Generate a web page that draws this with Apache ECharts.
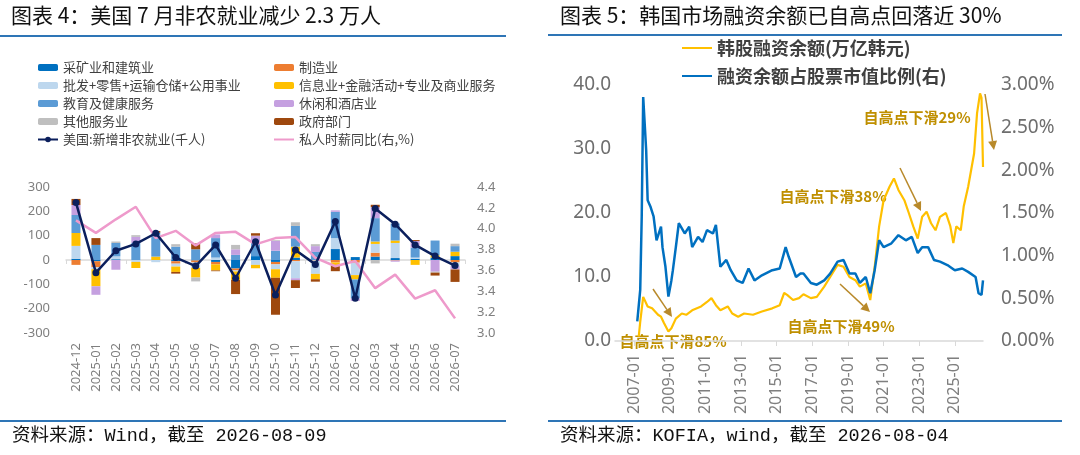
<!DOCTYPE html>
<html>
<head>
<meta charset="utf-8">
<script src="https://cdn.jsdelivr.net/npm/echarts@6/dist/echarts.min.js"></script>
<style>
html, body { margin: 0; padding: 0; background: #fff; }
#chart { width: 1080px; height: 455px; }
</style>
</head>
<body>
<div id="chart"></div>
<script>
// ---- 图表4：美国非农 ----
var usMonths = ['2024-12', '2025-01', '2025-02', '2025-03', '2025-04', '2025-05', '2025-06', '2025-07', '2025-08', '2025-09',
    '2025-10', '2025-11', '2025-12', '2026-01', '2026-02', '2026-03', '2026-04', '2026-05', '2026-06', '2026-07'];
var mining    = [5, -5, 3, 0, 0, -5, -2, -8, -35, 16, -8, 10, 0, 45, 12, 14, 8, 5, 10, 16];
var manufact  = [-20, -25, 0, 0, 0, -10, -8, -10, -8, 0, -10, -5, -2, -10, -11, 16, -2, 0, 0, -10];
var trade     = [53, -8, 12, -8, -9, -12, -22, 10, -4, -20, -20, -70, -55, 45, -51, 36, 62, 5, 0, -15];
var infoFin   = [53, -70, 0, -25, 14, -22, -40, -25, -35, -14, -35, 45, -22, -14, -18, 10, 10, -20, 10, 18];
var eduHealth = [74, 62, 55, 70, 98, 55, 44, 80, 21, 59, 38, 85, 33, 108, -78, 96, 70, 40, 60, 23];
var leisure   = [41, -35, -40, 25, 0, 0, 0, 15, 23, 25, 41, -8, 24, 6, -10, 45, -5, 28, -48, -14];
var otherSvc  = [0, 0, 6, 7, 0, 10, -16, 0, 18, 0, 3, 15, 8, 0, 0, -14, 0, 0, -4, 10];
var govt      = [25, 28, 0, 0, 7, -7, 24, -3, -58, 10, -152, -32, -10, -22, 0, 10, 0, 4, -12, -51];
var payrolls  = [236, -52, 38, 66, 110, 10, -25, 62, -75, 75, -144, 41, -18, 158, -157, 212, 147, 62, 16, -23];
var wageYoy   = [4.08, 3.96, 4.09, 4.21, 3.91, 3.98, 3.84, 3.96, 3.97, 3.85, 3.91, 3.92, 3.72, 3.64, 3.69, 3.43, 3.56, 3.33, 3.41, 3.14];

// ---- 图表5：韩国融资余额 ----
var loanDates = ['2007-04', '2007-05', '2007-07', '2007-10', '2008-01', '2008-05', '2008-07', '2008-09', '2008-12', '2009-02',
    '2009-05', '2009-09', '2009-12', '2010-04', '2010-10', '2011-02', '2011-05', '2011-08', '2011-11', '2012-04',
    '2012-07', '2012-11', '2013-03', '2013-09', '2014-03', '2014-10', '2015-03', '2015-06', '2015-08', '2015-12',
    '2016-04', '2016-07', '2016-12', '2017-04', '2017-09', '2018-01', '2018-06', '2018-10', '2019-02', '2019-06',
    '2019-09', '2020-01', '2020-04', '2020-07', '2020-10', '2021-01', '2021-05', '2021-08', '2021-11', '2022-03',
    '2022-06', '2022-09', '2022-12', '2023-03', '2023-06', '2023-09', '2023-12', '2024-03', '2024-07', '2024-10',
    '2024-12', '2025-02', '2025-05', '2025-07', '2025-10', '2026-02', '2026-04', '2026-06', '2026-07', '2026-08'];
var loanValues = [0.7, 3.0, 6.9, 5.4, 5.1, 4.1, 3.8, 2.8, 1.5, 2.0,
    3.5, 4.3, 4.1, 4.8, 5.4, 6.1, 6.7, 5.6, 4.8, 5.4,
    4.3, 3.8, 4.3, 4.1, 4.6, 5.1, 5.6, 7.5, 7.2, 6.4,
    6.7, 7.3, 6.7, 6.9, 8.5, 10.0, 11.9, 11.6, 10.0, 9.5,
    8.5, 9.0, 6.4, 11.6, 17.9, 22.0, 24.1, 25.4, 23.6, 22.0,
    20.0, 17.9, 16.0, 19.4, 20.2, 18.4, 17.3, 19.4, 20.0, 17.9,
    15.3, 17.9, 17.3, 21.0, 24.1, 29.3, 35.6, 38.7, 38.0, 27.2];

var ratioDates = ['2007-03', '2007-05', '2007-06', '2007-07', '2007-09', '2007-10', '2007-12', '2008-02', '2008-04', '2008-07',
    '2008-08', '2008-10', '2008-12', '2009-02', '2009-03', '2009-05', '2009-07', '2009-11', '2010-02', '2010-04',
    '2010-08', '2010-11', '2011-02', '2011-06', '2011-08', '2011-11', '2012-03', '2012-06', '2012-10', '2013-02',
    '2013-06', '2013-10', '2014-03', '2014-10', '2015-03', '2015-07', '2015-09', '2016-02', '2016-05', '2016-07',
    '2016-12', '2017-04', '2017-09', '2018-01', '2018-06', '2018-10', '2019-02', '2019-06', '2019-09', '2020-01',
    '2020-04', '2020-07', '2020-10', '2021-01', '2021-06', '2021-11', '2022-04', '2022-08', '2022-12', '2023-03',
    '2023-07', '2023-11', '2024-03', '2024-08', '2025-01', '2025-06', '2025-10', '2026-03', '2026-05', '2026-07',
    '2026-08'];
var ratioValues = [0.23, 0.6, 1.45, 2.86, 2.24, 1.65, 1.57, 1.46, 1.18, 1.34,
    1.1, 0.87, 0.52, 0.71, 0.83, 1.1, 1.38, 1.26, 1.34, 1.1,
    1.22, 1.16, 1.3, 1.26, 1.36, 0.87, 0.95, 0.83, 0.71, 0.68,
    0.85, 0.71, 0.77, 0.83, 0.85, 1.1, 0.99, 0.75, 0.79, 0.79,
    0.68, 0.66, 0.71, 0.79, 0.93, 0.95, 0.79, 0.79, 0.68, 0.75,
    0.56, 0.83, 1.18, 1.1, 1.14, 1.24, 1.18, 1.22, 1.03, 1.1,
    1.1, 0.95, 0.93, 0.89, 0.83, 0.85, 0.81, 0.75, 0.56, 0.54,
    0.71];

// 月度类目轴 2005-12 ~ 2026-08
var krMonths = [];
for (var y = 2005; y <= 2026; y++) {
    for (var m = 1; m <= 12; m++) {
        var s = y + '-' + (m < 10 ? '0' + m : m);
        if (s >= '2005-12' && s <= '2026-08') krMonths.push(s);
    }
}
function onMonths(dates, vals) {
    var map = {};
    dates.forEach(function (d, i) { map[d] = vals[i]; });
    return krMonths.map(function (d) { return d in map ? map[d] : null; });
}
function isOddJan(idx, val) {
    return val.slice(5) === '01' && (+val.slice(0, 4)) % 2 === 1;
}

var gold = '#BF8F00';
function arrow(x1, y1, x2, y2) {
    var a = Math.atan2(y2 - y1, x2 - x1);
    var L = 9, W = 4.5;
    var bx = x2 - L * Math.cos(a), by = y2 - L * Math.sin(a);
    return [
        { type: 'line', shape: { x1: x1, y1: y1, x2: bx, y2: by }, style: { stroke: '#B8892A', lineWidth: 1.5 } },
        { type: 'polygon', shape: { points: [[x2, y2], [bx - W * Math.sin(a), by + W * Math.cos(a)], [bx + W * Math.sin(a), by - W * Math.cos(a)]] },
          style: { fill: '#B8892A' } }
    ];
}
function note(text, cx, cy) {
    return { type: 'text', x: cx, y: cy, style: { text: text, fill: gold, font: 'bold 15px "Noto Sans CJK SC"', textAlign: 'center', textVerticalAlign: 'middle' } };
}
// 图例里的折线只画线，不画圆点
function lineOnly(name) {
    return { name: name, itemStyle: { opacity: 0 } };
}

var cjk = '"Noto Sans CJK SC"';
var num = '"Noto Sans", "Noto Sans CJK SC"';
var mono = '"Liberation Mono", "Noto Sans CJK SC"';

var barColors = {
    '采矿业和建筑业': '#0070C0',
    '制造业': '#ED7D31',
    '批发+零售+运输仓储+公用事业': '#BDD7EE',
    '信息业+金融活动+专业及商业服务': '#FFC000',
    '教育及健康服务': '#5B9BD5',
    '休闲和酒店业': '#C5A0E0',
    '其他服务业': '#BFBFBF',
    '政府部门': '#9E480E'
};
var barData = [mining, manufact, trade, infoFin, eduHealth, leisure, otherSvc, govt];
var barSeries = Object.keys(barColors).map(function (name, i) {
    return {
        name: name, type: 'bar', stack: 'nfp', xAxisIndex: 0, yAxisIndex: 0,
        barWidth: 9, data: barData[i], itemStyle: { color: barColors[name] }
    };
});

var chart = echarts.init(document.getElementById('chart'));
var option = {
    animation: false,
    backgroundColor: '#fff',
    grid: [
        { left: 66, width: 399, top: 187, height: 146 },
        { left: 615, width: 368, top: 85, height: 256 }
    ],
    legend: [
        {
            orient: 'vertical', left: 32, top: 56, itemGap: 5, itemWidth: 20, itemHeight: 7,
            textStyle: { fontSize: 13, color: '#404040', fontFamily: cjk, lineHeight: 13 },
            data: ['采矿业和建筑业', '批发+零售+运输仓储+公用事业', '教育及健康服务', '其他服务业', '美国:新增非农就业(千人)']
        },
        {
            orient: 'vertical', left: 268, top: 56, itemGap: 5, itemWidth: 20, itemHeight: 7,
            textStyle: { fontSize: 13, color: '#404040', fontFamily: cjk, lineHeight: 13 },
            data: ['制造业', '信息业+金融活动+专业及商业服务', '休闲和酒店业', '政府部门', lineOnly('私人时薪同比(右,%)')]
        },
        {
            orient: 'vertical', left: 676, top: 34, itemGap: 10, itemWidth: 30, itemHeight: 10,
            textStyle: { fontSize: 18, fontWeight: 'bold', color: '#404040', fontFamily: cjk, lineHeight: 18 },
            data: [lineOnly('韩股融资余额(万亿韩元)'), lineOnly('融资余额占股票市值比例(右)')]
        }
    ],
    xAxis: [
        {
            type: 'category', gridIndex: 0, data: usMonths,
            axisLine: { onZero: true, lineStyle: { color: '#D9D9D9', width: 1.5 } },
            axisTick: { show: true, length: 4, lineStyle: { color: '#D9D9D9' } },
            axisLabel: { show: false }
        },
        {
            type: 'category', gridIndex: 0, data: usMonths, position: 'bottom',
            axisLine: { show: false, onZero: false }, axisTick: { show: false },
            axisLabel: { rotate: 90, margin: 10, interval: 0, fontSize: 13, color: '#7F7F7F', fontFamily: num }
        },
        {
            type: 'category', gridIndex: 1, data: krMonths, boundaryGap: false,
            axisLine: { lineStyle: { color: '#D9D9D9', width: 1.5 } },
            axisTick: { show: true, length: 5, interval: isOddJan, lineStyle: { color: '#D9D9D9' } },
            axisLabel: { rotate: 90, margin: 13, interval: isOddJan, fontSize: 16, color: '#7F7F7F', fontFamily: num }
        }
    ],
    yAxis: [
        {
            type: 'value', gridIndex: 0, min: -300, max: 300, interval: 100,
            splitLine: { show: false }, axisLine: { show: false }, axisTick: { show: false },
            axisLabel: { margin: 16, fontSize: 13, color: '#7F7F7F', fontFamily: num }
        },
        {
            type: 'value', gridIndex: 0, min: 3.0, max: 4.4, interval: 0.2, position: 'right',
            splitLine: { show: false }, axisLine: { show: false }, axisTick: { show: false },
            axisLabel: { margin: 12, fontSize: 13, color: '#7F7F7F', fontFamily: num,
                formatter: function (v) { return v.toFixed(1); } }
        },
        {
            type: 'value', gridIndex: 1, min: 0, max: 40, interval: 10,
            splitLine: { show: false }, axisLine: { show: false }, axisTick: { show: false },
            axisLabel: { margin: 4, fontSize: 19, color: '#6E6E6E', fontFamily: num,
                formatter: function (v) { return v.toFixed(1); } }
        },
        {
            type: 'value', gridIndex: 1, min: 0, max: 3, interval: 0.5, position: 'right',
            splitLine: { show: false }, axisLine: { show: false }, axisTick: { show: false },
            axisLabel: { margin: 18, fontSize: 19, color: '#6E6E6E', fontFamily: num,
                formatter: function (v) { return v.toFixed(2) + '%'; } }
        }
    ],
    series: barSeries.concat([
        {
            name: '私人时薪同比(右,%)', type: 'line', xAxisIndex: 0, yAxisIndex: 1,
            data: wageYoy, symbol: 'none', lineStyle: { color: '#EE9ACB', width: 2.5 }, itemStyle: { color: '#EE9ACB' }
        },
        {
            name: '美国:新增非农就业(千人)', type: 'line', xAxisIndex: 0, yAxisIndex: 0,
            data: payrolls, symbol: 'circle', symbolSize: 7,
            lineStyle: { color: '#0B1F5C', width: 2.5 }, itemStyle: { color: '#0B1F5C' }
        },
        {
            name: '韩股融资余额(万亿韩元)', type: 'line', xAxisIndex: 2, yAxisIndex: 2,
            data: onMonths(loanDates, loanValues), connectNulls: true, symbol: 'none',
            lineStyle: { color: '#FFC000', width: 2.2 }, itemStyle: { color: '#FFC000' }
        },
        {
            name: '融资余额占股票市值比例(右)', type: 'line', xAxisIndex: 2, yAxisIndex: 3,
            data: onMonths(ratioDates, ratioValues), connectNulls: true, symbol: 'none',
            lineStyle: { color: '#0070C0', width: 2.5 }, itemStyle: { color: '#0070C0' }
        }
    ]),
    graphic: [
        { type: 'text', left: 11, top: 5, style: { text: '图表 4：美国 7 月非农就业减少 2.3 万人', fill: '#111', font: '21px ' + cjk } },
        { type: 'text', left: 560, top: 5, style: { text: '图表 5：韩国市场融资余额已自高点回落近 30%', fill: '#111', font: '21px ' + cjk } },
        { type: 'line', shape: { x1: 0, y1: 36, x2: 506, y2: 36 }, style: { stroke: '#2E75B6', lineWidth: 2 } },
        { type: 'line', shape: { x1: 548, y1: 35, x2: 1062, y2: 35 }, style: { stroke: '#2E75B6', lineWidth: 2 } },
        { type: 'line', shape: { x1: 0, y1: 421, x2: 506, y2: 421 }, style: { stroke: '#2E75B6', lineWidth: 2 } },
        { type: 'line', shape: { x1: 548, y1: 421, x2: 1062, y2: 421 }, style: { stroke: '#2E75B6', lineWidth: 2 } },
        { type: 'text', left: 12, top: 427, style: { text: '资料来源：Wind，截至 2026-08-09', fill: '#111', font: '18.5px ' + mono } },
        { type: 'text', left: 560, top: 427, style: { text: '资料来源：KOFIA，wind，截至 2026-08-04', fill: '#111', font: '18.5px ' + mono } },
        note('自高点下滑85%', 673, 341),
        note('自高点下滑38%', 833, 196),
        note('自高点下滑49%', 841, 326),
        note('自高点下滑29%', 917, 117)
    ].concat(arrow(653, 289, 672, 317), arrow(900, 168, 921, 211), arrow(840, 284, 870, 312), arrow(985, 94, 994, 150))
};
chart.setOption(option);
</script>
</body>
</html>
